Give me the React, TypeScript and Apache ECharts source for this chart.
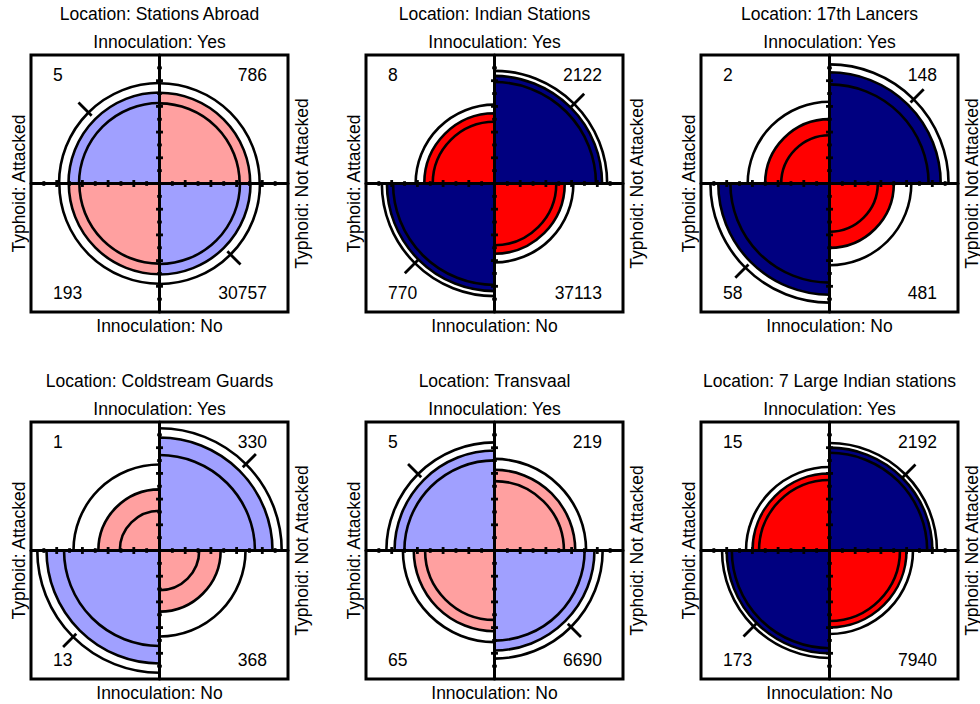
import React, { useEffect, useRef } from "react";
import * as echarts from "echarts";

// ---- data ----
const LOCATIONS = [
  "Stations Abroad",
  "Indian Stations",
  "17th Lancers",
  "Coldstream Guards",
  "Transvaal",
  "7 Large Indian stations",
];
// cell counts (Innoculation x Typhoid)
const YES_ATTACKED = [5, 8, 2, 1, 5, 15];
const YES_NOT_ATTACKED = [786, 2122, 148, 330, 219, 2192];
const NO_ATTACKED = [193, 770, 58, 13, 65, 173];
const NO_NOT_ATTACKED = [30757, 37113, 481, 368, 6690, 7940];

const TOP_LABEL = "Innoculation: Yes";
const BOTTOM_LABEL = "Innoculation: No";
const LEFT_LABEL = "Typhoid: Attacked";
const RIGHT_LABEL = "Typhoid: Not Attacked";
const TITLE_PREFIX = "Location: ";

const MAJOR_TICKS = [-0.8, -0.6, -0.4, -0.2, 0, 0.2, 0.4, 0.6, 0.8];
const MINOR_TICKS = [-0.9, -0.7, -0.5, -0.3, -0.1, 0.1, 0.3, 0.5, 0.7, 0.9];

const CONF_LEVEL = 0.95;

// ---- style / layout ----
const FONT = '"Liberation Sans", Arial, Helvetica, sans-serif';
const FONT_SIZE = 17.5;
const LIGHT = ["#FFA0A0", "#A0A0FF"]; // [other diagonal, favoured diagonal]
const DARK = ["#FF0000", "#000080"];
const GRID_LEFTS = [31, 366, 701];
const GRID_TOPS = [55, 422];
const BOX = 257;
const LW = 2.6;

// ---- statistics (vcd::fourfold) ----
function normCdf(z: number) {
  const t = 1 / (1 + 0.2316419 * Math.abs(z));
  const d = 0.3989422804014327 * Math.exp((-z * z) / 2);
  const p =
    d * t * (0.31938153 + t * (-0.356563782 + t * (1.781477937 + t * (-1.821255978 + t * 1.330274429))));
  return z > 0 ? 1 - p : p;
}
const stdz = (or: number) => {
  const u = Math.sqrt(or);
  return u / (1 + u);
};

function holm(p: number[]) {
  const m = p.length;
  const idx = p.map((_, i) => i).sort((a, b) => p[a] - p[b]);
  const adj = new Array(m).fill(0);
  let run = 0;
  idx.forEach((i, k) => {
    run = Math.max(run, Math.min(1, (m - k) * p[i]));
    adj[i] = run;
  });
  return adj;
}

// quadrant order: UL (Yes,Attacked), UR (Yes,Not), LL (No,Attacked), LR (No,Not)
const QUAD_ANGLES = [
  [-Math.PI, -Math.PI / 2],
  [-Math.PI / 2, 0],
  [Math.PI / 2, Math.PI],
  [0, Math.PI / 2],
];
const QUAD_SIGN = [
  [-1, 1],
  [1, 1],
  [-1, -1],
  [1, -1],
];

const zq = 1.959963985;
const stats = LOCATIONS.map((_, i) => {
  const a = YES_ATTACKED[i],
    b = YES_NOT_ATTACKED[i],
    c = NO_ATTACKED[i],
    d = NO_NOT_ATTACKED[i];
  const lor = Math.log((a * d) / (b * c));
  const se = Math.sqrt(1 / a + 1 / b + 1 / c + 1 / d);
  const z = lor / se;
  const p = 2 * (1 - normCdf(Math.abs(z)));
  return { lor, se, p, counts: [a, b, c, d] };
});
const pAdj = holm(stats.map((s) => s.p));

const panels = stats.map((s, i) => {
  const or = Math.exp(s.lor);
  const main = stdz(or);
  const lo = stdz(Math.exp(s.lor - zq * s.se));
  const hi = stdz(Math.exp(s.lor + zq * s.se));
  const mainFav = or > 1;
  const sig = pAdj[i] < 1 - CONF_LEVEL;
  const pal = sig ? DARK : LIGHT;
  const quads = [0, 1, 2, 3].map((q) => {
    const isMain = q === 0 || q === 3;
    const r = Math.sqrt(isMain ? main : 1 - main);
    const rings = isMain ? [Math.sqrt(lo), Math.sqrt(hi)] : [Math.sqrt(1 - lo), Math.sqrt(1 - hi)];
    const fav = isMain === mainFav;
    return { r, rings, fav, color: pal[fav ? 1 : 0], outer: Math.max(rings[0], rings[1]) };
  });
  return { quads };
});

export default function App() {
  const ref = useRef<HTMLDivElement>(null);
  useEffect(() => {
    if (!ref.current) return;
    const chart = echarts.init(ref.current, undefined, { renderer: "svg" });
    const grids: any[] = [];
    const xAxes: any[] = [];
    const yAxes: any[] = [];
    const series: any[] = [];
    const graphics: any[] = [];
    const axisCommon = {
      type: "value",
      min: -1,
      max: 1,
      axisLine: { show: true, onZero: true, lineStyle: { color: "#000", width: 3 } },
      axisTick: { show: false },
      axisLabel: { show: false },
      splitLine: { show: false },
      z: 10,
    };
    LOCATIONS.forEach((loc, i) => {
      const L = GRID_LEFTS[i % 3];
      const T = GRID_TOPS[Math.floor(i / 3)];
      grids.push({
        left: L,
        top: T,
        width: BOX,
        height: BOX,
        show: true,
        borderColor: "#000",
        borderWidth: 3,
        backgroundColor: "transparent",
        z: 20,
      });
      xAxes.push({ ...axisCommon, gridIndex: i });
      yAxes.push({ ...axisCommon, gridIndex: i });
      const geo = panels[i];
      const counts = stats[i].counts;
      series.push({
        type: "custom",
        xAxisIndex: i,
        yAxisIndex: i,
        z: 2,
        clip: false,
        data: counts.map((v, q) => [QUAD_SIGN[q][0], QUAD_SIGN[q][1], v]),
        renderItem: (params: any, api: any) => {
          const q = params.dataIndex;
          const g = geo.quads[q];
          const c = api.coord([0, 0]);
          const unit = api.size([1, 1])[0];
          const [sa, ea] = QUAD_ANGLES[q];
          const children: any[] = [];
          children.push({
            type: "sector",
            shape: { cx: c[0], cy: c[1], r0: 0, r: g.r * unit, startAngle: sa, endAngle: ea, clockwise: true },
            style: { fill: g.color, stroke: "#000", lineWidth: LW },
          });
          g.rings.forEach((rr: number) => {
            children.push({
              type: "arc",
              shape: { cx: c[0], cy: c[1], r: rr * unit, startAngle: sa, endAngle: ea, clockwise: true },
              style: { fill: "none", stroke: "#000", lineWidth: LW },
            });
          });
          if (g.fav) {
            const mid = (sa + ea) / 2;
            const r1 = (g.outer - 0.035) * unit;
            const r2 = (g.outer + 0.11) * unit;
            children.push({
              type: "line",
              shape: {
                x1: c[0] + r1 * Math.cos(mid),
                y1: c[1] + r1 * Math.sin(mid),
                x2: c[0] + r2 * Math.cos(mid),
                y2: c[1] + r2 * Math.sin(mid),
              },
              style: { stroke: "#000", lineWidth: 2.8 },
            });
          }
          const sx = api.value(0);
          const sy = api.value(1);
          const corner = api.coord([sx, sy]);
          children.push({
            type: "text",
            x: corner[0] + (sx < 0 ? 22 : -21),
            y: corner[1] + (sy > 0 ? 20 : -19),
            style: {
              text: String(api.value(2)),
              fill: "#000",
              fontSize: FONT_SIZE,
              fontFamily: FONT,
              align: sx < 0 ? "left" : "right",
              verticalAlign: "middle",
            },
          });
          return { type: "group", children };
        },
      });
      // axis ticks
      series.push({
        type: "custom",
        xAxisIndex: i,
        yAxisIndex: i,
        z: 12,
        clip: false,
        data: [...MAJOR_TICKS.map((t) => [t, 1]), ...MINOR_TICKS.map((t) => [t, 0])],
        renderItem: (params: any, api: any) => {
          const t = api.value(0);
          const h = api.value(1) === 1 ? 0.027 : 0.018;
          const a1 = api.coord([t, -h]);
          const a2 = api.coord([t, h]);
          const b1 = api.coord([-h, t]);
          const b2 = api.coord([h, t]);
          return {
            type: "group",
            children: [
              { type: "line", shape: { x1: a1[0], y1: a1[1], x2: a2[0], y2: a2[1] }, style: { stroke: "#000", lineWidth: 2.8 } },
              { type: "line", shape: { x1: b1[0], y1: b1[1], x2: b2[0], y2: b2[1] }, style: { stroke: "#000", lineWidth: 2.8 } },
            ],
          };
        },
      });
      const cx = L + BOX / 2;
      const cy = T + BOX / 2;
      const txt = (text: string, x: number, y: number, rotation = 0) => ({
        type: "text",
        x,
        y,
        rotation,
        z: 30,
        style: {
          text,
          fill: "#000",
          fontSize: FONT_SIZE,
          fontFamily: FONT,
          align: "center",
          verticalAlign: "middle",
          textAlign: "center",
          textVerticalAlign: "middle",
        },
      });
      graphics.push(txt(TITLE_PREFIX + loc, cx, T - 41.5));
      graphics.push(txt(TOP_LABEL, cx, T - 13));
      graphics.push(txt(BOTTOM_LABEL, cx, T + BOX + 13.5));
      graphics.push(txt(LEFT_LABEL, L - 12.5, cy, Math.PI / 2));
      graphics.push(txt(RIGHT_LABEL, L + BOX + 13.5, cy, Math.PI / 2));
    });
    chart.setOption({
      animation: false,
      backgroundColor: "#fff",
      grid: grids,
      xAxis: xAxes,
      yAxis: yAxes,
      series,
      graphic: graphics,
    });
    return () => chart.dispose();
  }, []);
  return <div ref={ref} style={{ position: "absolute", left: 0, top: 0, width: 980, height: 704 }} />;
}
